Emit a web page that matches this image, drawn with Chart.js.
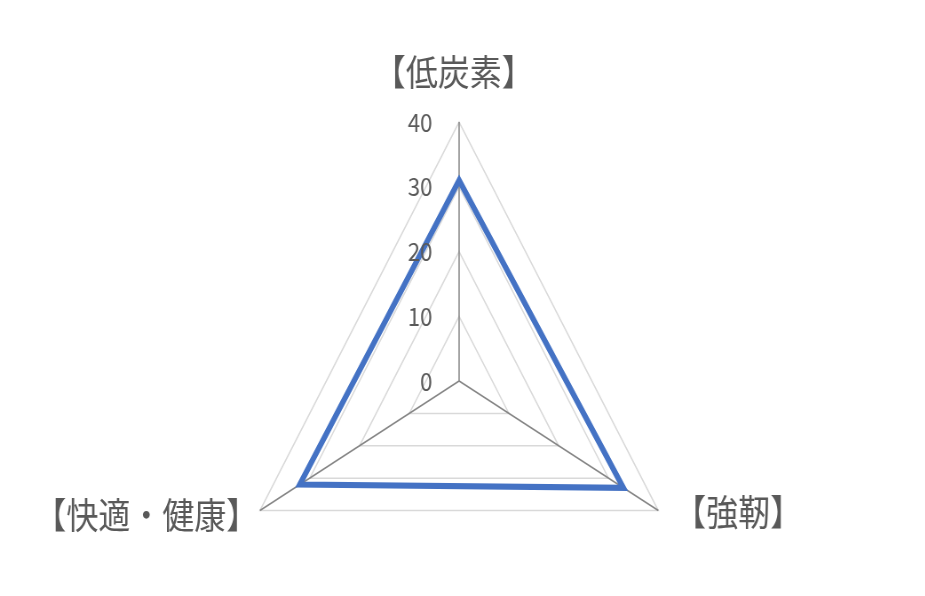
<!DOCTYPE html>
<html>
<head>
<meta charset="utf-8">
<script src="https://cdn.jsdelivr.net/npm/chart.js@4"></script>
<style>
  body { margin: 0; overflow: hidden; background: #fff; }
  #wrap { width: 1042px; height: 700px; transform: scaleX(0.888); transform-origin: 0 0; }
</style>
</head>
<body>
<div id="wrap"><canvas id="radar"></canvas></div>
<script>
// データ
const categories = ['【低炭素】', '【強靭】', '【快適・健康】'];
const values = [31, 33, 32];
const tickValues = [0, 10, 20, 30, 40];

const textColor = '#595959';

// 目盛りと項目名を自前で描く（Excel風の配置）
const labelPlugin = {
  id: 'labelPlugin',
  afterDraw(chart) {
    const r = chart.scales.r;
    const ctx = chart.ctx;
    ctx.save();
    ctx.fillStyle = textColor;

    // 目盛りラベル
    ctx.font = '25px "Noto Sans CJK JP", "Noto Sans", sans-serif';
    ctx.textAlign = 'right';
    ctx.textBaseline = 'middle';
    for (const v of tickValues) {
      const p = r.getPointPositionForValue(0, v);
      ctx.fillText(String(v), r.xCenter - 30, p.y);
    }

    // 項目名
    ctx.font = '36px "Noto Sans CJK JP", sans-serif';
    categories.forEach((name, i) => {
      const p = r.getPointPosition(i, r.drawingArea);
      if (i === 0) {
        ctx.textAlign = 'center';
        ctx.fillText(name, p.x - 6, p.y - 50);
      } else if (p.x > r.xCenter) {
        ctx.textAlign = 'left';
        ctx.fillText(name, p.x + 18, p.y + 2);
      } else {
        ctx.textAlign = 'right';
        ctx.fillText(name, p.x - 2, p.y + 5);
      }
    });
    ctx.restore();
  }
};

new Chart(document.getElementById('radar'), {
  type: 'radar',
  data: {
    labels: categories,
    datasets: [{
      data: values,
      borderColor: '#4472C4',
      borderWidth: 6,
      fill: false,
      pointRadius: 0,
      tension: 0
    }]
  },
  options: {
    responsive: true,
    maintainAspectRatio: false,
    animation: false,
    layout: { padding: { top: 122, bottom: 60, left: 258, right: 266 } },
    plugins: { legend: { display: false }, tooltip: { enabled: false } },
    scales: {
      r: {
        min: 0,
        max: 40,
        ticks: { display: false, stepSize: 10 },
        pointLabels: { display: false },
        grid: { color: '#d9d9d9', lineWidth: 1.5 },
        angleLines: { color: '#858585', lineWidth: 1.5 }
      }
    }
  },
  plugins: [labelPlugin]
});
</script>
</body>
</html>
